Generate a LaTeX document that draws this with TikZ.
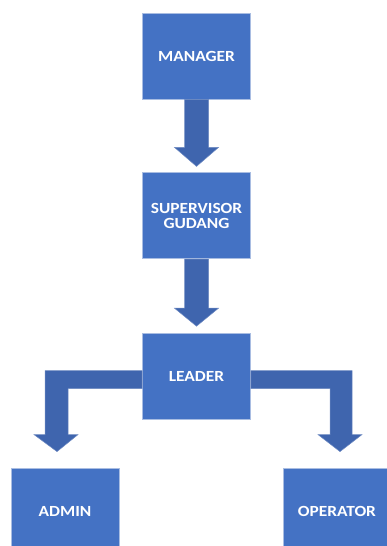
\documentclass[tikz,border=0pt]{standalone}
\usepackage{fontspec}
\setmainfont{Carlito}[FakeStretch=1.12]
\usetikzlibrary{positioning}
\definecolor{boxblue}{HTML}{4472C4}
\definecolor{boxedge}{HTML}{A9BDE2}
\definecolor{arrowblue}{HTML}{3F65AE}
\begin{document}
\begin{tikzpicture}[x=1pt,y=1pt,
        post/.style={draw=boxedge,line width=0.8pt,fill=boxblue,text=white,font=\fontsize{15.5}{15}\selectfont\bfseries,minimum width=108pt,minimum height=86pt,align=center,inner sep=0pt},
        bigarrow/.style={fill=arrowblue,draw=arrowblue!75!white,line width=0.5pt}]
        %% Frame
        \useasboundingbox (0,0) rectangle (387,546);
        %% Boxes
        \node[post] (manager) at (196.5,490) {MANAGER};
        \node[post,below=73pt of manager] (supervisor) {SUPERVISOR\\GUDANG};
        \node[post,below=74pt of supervisor] (leader) {LEADER};
        \node[post] (admin) at (65,35) {ADMIN};
        \node[post] (operator) at (337,35) {OPERATOR};
        %% Straight arrows
        \draw[bigarrow] ([xshift=-12]manager.south) -- ([xshift=-12,yshift=25]supervisor.north) -- ([xshift=-22,yshift=25]supervisor.north) -- ([yshift=6]supervisor.north) -- ([xshift=22,yshift=25]supervisor.north) -- ([xshift=12,yshift=25]supervisor.north) -- ([xshift=12]manager.south) -- cycle;
        \draw[bigarrow] ([xshift=-12]supervisor.south) -- ([xshift=-12,yshift=25]leader.north) -- ([xshift=-22,yshift=25]leader.north) -- ([yshift=7]leader.north) -- ([xshift=22,yshift=25]leader.north) -- ([xshift=12,yshift=25]leader.north) -- ([xshift=12]supervisor.south) -- cycle;
        %% Bent arrows
        \draw[bigarrow] ([yshift=6]leader.west) -| ([xshift=-20,yshift=33]admin.north) -- ([xshift=-31,yshift=33]admin.north) -- ([xshift=-8,yshift=16]admin.north) -- ([xshift=13,yshift=33]admin.north) -- ([xshift=3,yshift=33]admin.north) |- ([yshift=-12]leader.west) -- cycle;
        \draw[bigarrow] ([yshift=6]leader.east) -| ([xshift=15,yshift=33]operator.north) -- ([xshift=25,yshift=33]operator.north) -- ([xshift=3,yshift=16]operator.north) -- ([xshift=-19,yshift=33]operator.north) -- ([xshift=-7,yshift=33]operator.north) |- ([yshift=-12]leader.east) -- cycle;
\end{tikzpicture}
\end{document}
